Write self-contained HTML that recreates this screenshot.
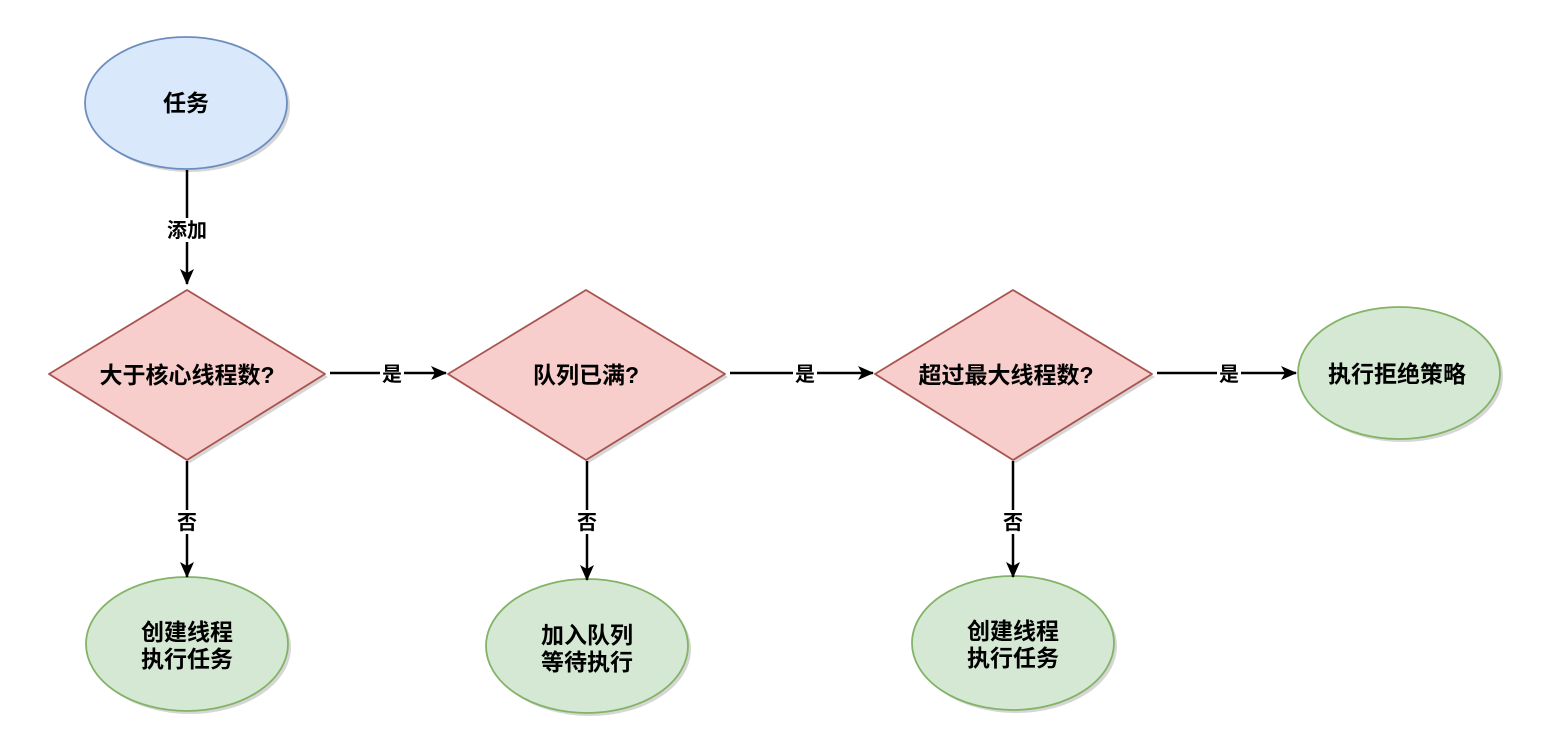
<!DOCTYPE html>
<html><head><meta charset="utf-8"><style>
html,body{margin:0;padding:0;background:#fff;}
svg{display:block;font-family:"Liberation Sans","Noto Sans CJK SC",sans-serif;font-weight:bold;}
</style></head><body>
<svg width="1558" height="752" viewBox="0 0 1558 752" xmlns="http://www.w3.org/2000/svg">
<defs>
<marker id="ar" markerWidth="16" markerHeight="14" refX="15" refY="7" orient="auto" markerUnits="userSpaceOnUse">
<path d="M0,0 L16,7 L0,14 L4,7 Z" fill="#000"/>
</marker>
</defs>
<g fill="#bbb" opacity="0.6">
<ellipse cx="189" cy="106" rx="101" ry="66"/>
<path d="M190,293 L328,377 L190,463 L52,377 Z"/>
<path d="M589,293 L728,377 L589,463 L451,377 Z"/>
<path d="M1016,293 L1155,377 L1016,463 L878,377 Z"/>
<ellipse cx="1402" cy="376" rx="101" ry="66"/>
<ellipse cx="190" cy="647" rx="101" ry="67"/>
<ellipse cx="590" cy="649" rx="101" ry="67"/>
<ellipse cx="1016" cy="646" rx="101" ry="67"/>
</g>
<ellipse cx="186" cy="103" rx="101" ry="66" fill="#dae8fc" stroke="#6c8ebf" stroke-width="1.8"/>
<g fill="#f8cecc" stroke="#a8544f" stroke-width="1.8" stroke-linejoin="round">
<path d="M187,290 L325,374 L187,460 L49,374 Z"/>
<path d="M586,290 L725,374 L586,460 L448,374 Z"/>
<path d="M1013,290 L1152,374 L1013,460 L875,374 Z"/>
</g>
<g fill="#d5e8d4" stroke="#82b366" stroke-width="1.8">
<ellipse cx="1399" cy="373" rx="101" ry="66"/>
<ellipse cx="187" cy="644" rx="101" ry="67"/>
<ellipse cx="587" cy="646" rx="101" ry="67"/>
<ellipse cx="1013" cy="643" rx="101" ry="67"/>
</g>
<g stroke="#000" stroke-width="2.5" fill="none" marker-end="url(#ar)">
<line x1="187" y1="170" x2="187" y2="284"/>
<line x1="330" y1="373" x2="446" y2="373"/>
<line x1="730" y1="373" x2="873" y2="373"/>
<line x1="1157" y1="373" x2="1296" y2="373"/>
<line x1="187" y1="461" x2="187" y2="577"/>
<line x1="587" y1="461" x2="587" y2="580"/>
<line x1="1013" y1="461" x2="1013" y2="577"/>
</g>
<g fill="#fff">
<rect x="165" y="218" width="44" height="24"/>
<rect x="380" y="361" width="24" height="24"/>
<rect x="793" y="361" width="24" height="24"/>
<rect x="1217" y="361" width="24" height="24"/>
<rect x="175" y="510" width="24" height="24"/>
<rect x="575" y="510" width="24" height="24"/>
<rect x="1001" y="510" width="24" height="24"/>
</g>
<g font-size="20" text-anchor="middle" fill="#000">
<text x="187" y="237">添加</text>
<text x="392" y="381">是</text>
<text x="805" y="381">是</text>
<text x="1229" y="381">是</text>
<text x="187" y="529">否</text>
<text x="587" y="529">否</text>
<text x="1013" y="529">否</text>
</g>
<g font-size="23" text-anchor="middle" fill="#000">
<text x="186" y="111">任务</text>
<text x="187" y="383">大于核心线程数?</text>
<text x="586" y="383">队列已满?</text>
<text x="1006" y="383">超过最大线程数?</text>
<text x="1397" y="382">执行拒绝策略</text>
<text x="187" y="640">创建线程</text>
<text x="187" y="667">执行任务</text>
<text x="587" y="643">加入队列</text>
<text x="587" y="670">等待执行</text>
<text x="1013" y="639">创建线程</text>
<text x="1013" y="666">执行任务</text>
</g>
</svg>
</body></html>
